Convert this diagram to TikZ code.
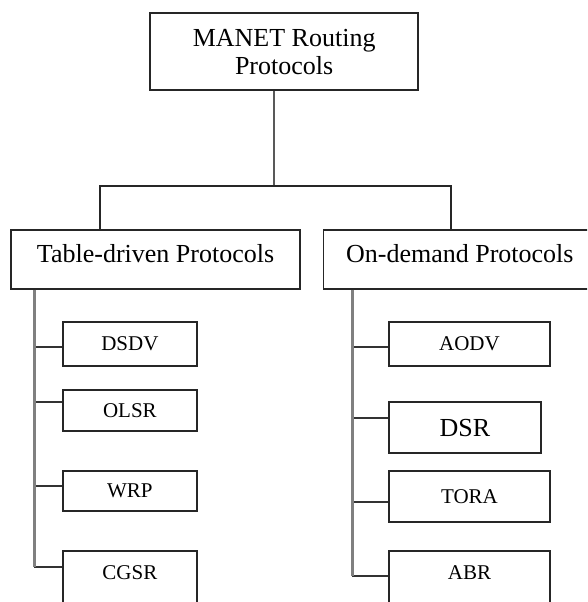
\documentclass[tikz,border=0pt]{standalone}
\usepackage{fontspec}
\setmainfont{Liberation Serif}
\usetikzlibrary{calc}

\begin{document}
\begin{tikzpicture}[x=1pt, y=-1pt,
    box/.style={draw=black!85, line width=1.9pt, inner sep=0pt},
    head/.style={box, font=\fontsize{26}{28}\selectfont, minimum height=58.7, text depth=11pt},
    leaf/.style={box, font=\fontsize{21}{24}\selectfont, minimum width=134.3},
    stem/.style={draw=black!65, line width=2pt},
    link/.style={draw=black!85, line width=1.9pt},
    trunk/.style={draw=black!50, line width=2.8pt},
    branch/.style={draw=black!80, line width=1.9pt}]
      \useasboundingbox (0,0) rectangle (587,602);
      \clip (0,0) rectangle (587,602);

      \node[box, align=center, font=\fontsize{26}{28}\selectfont,
        minimum width=268, minimum height=77] (root) at (284.15,51.8) {MANET Routing\\Protocols};
      \node[head, minimum width=288.7] (tdp) at (155.55,259.35) {Table-driven Protocols};
      \node[head, minimum width=272.6] (odp) at (459.8,259.35) {On-demand Protocols};

      \coordinate (sp) at (273.7,186);
      \coordinate (lt) at (100.3,186);
      \coordinate (rt) at (450.8,186);
      \coordinate (tt) at (34.3,0);
      \coordinate (ot) at (352.3,0);

      {
        \foreach \p/\y/\h in {DSDV/343.85/44.3, OLSR/410.5/41, WRP/490.85/40.3}
        {
          \node[leaf, minimum height=\h] (\p) at (129.85,\y) {\p};
        }
        \node[leaf, minimum height=58, text depth=14pt] (CGSR) at (129.85,580) {CGSR};

        \foreach \p/\y/\h in {AODV/343.85/44.3, TORA/496.2/51}
        {
          \node[leaf, minimum width=161.6, minimum height=\h] (\p) at (469.5,\y) {\p};
        }
        \node[leaf, font=\fontsize{26}{28}\selectfont, minimum width=152.6,
          minimum height=51] (DSR) at (465,427.8) {DSR};
        \node[leaf, minimum width=161.6, minimum height=58, text depth=14pt] (ABR) at (469.5,580) {ABR};
      }

      \draw[stem] (root.south -| sp) -- (sp);
      \draw[link] (tdp.north -| lt) -- (lt) -- (rt) -- (rt |- odp.north);

      \foreach \p/\d in {DSDV/2.85, OLSR/-8.5, WRP/-4.85, CGSR/-12.7}
      {
        \path ($(\p.west)+(0,\d)$) coordinate (b\p);
        \draw[branch] (b\p) -- (b\p -| tt);
      }
      \foreach \p/\d in {AODV/2.85, DSR/-9.5, TORA/5.5, ABR/-4}
      {
        \path ($(\p.west)+(0,\d)$) coordinate (b\p);
        \draw[branch] (b\p) -- (b\p -| ot);
      }

      \draw[trunk] (tdp.south -| tt) -- (tt |- bCGSR);
      \draw[trunk] (odp.south -| ot) -- (ot |- bABR);
    \end{tikzpicture}
\end{document}
